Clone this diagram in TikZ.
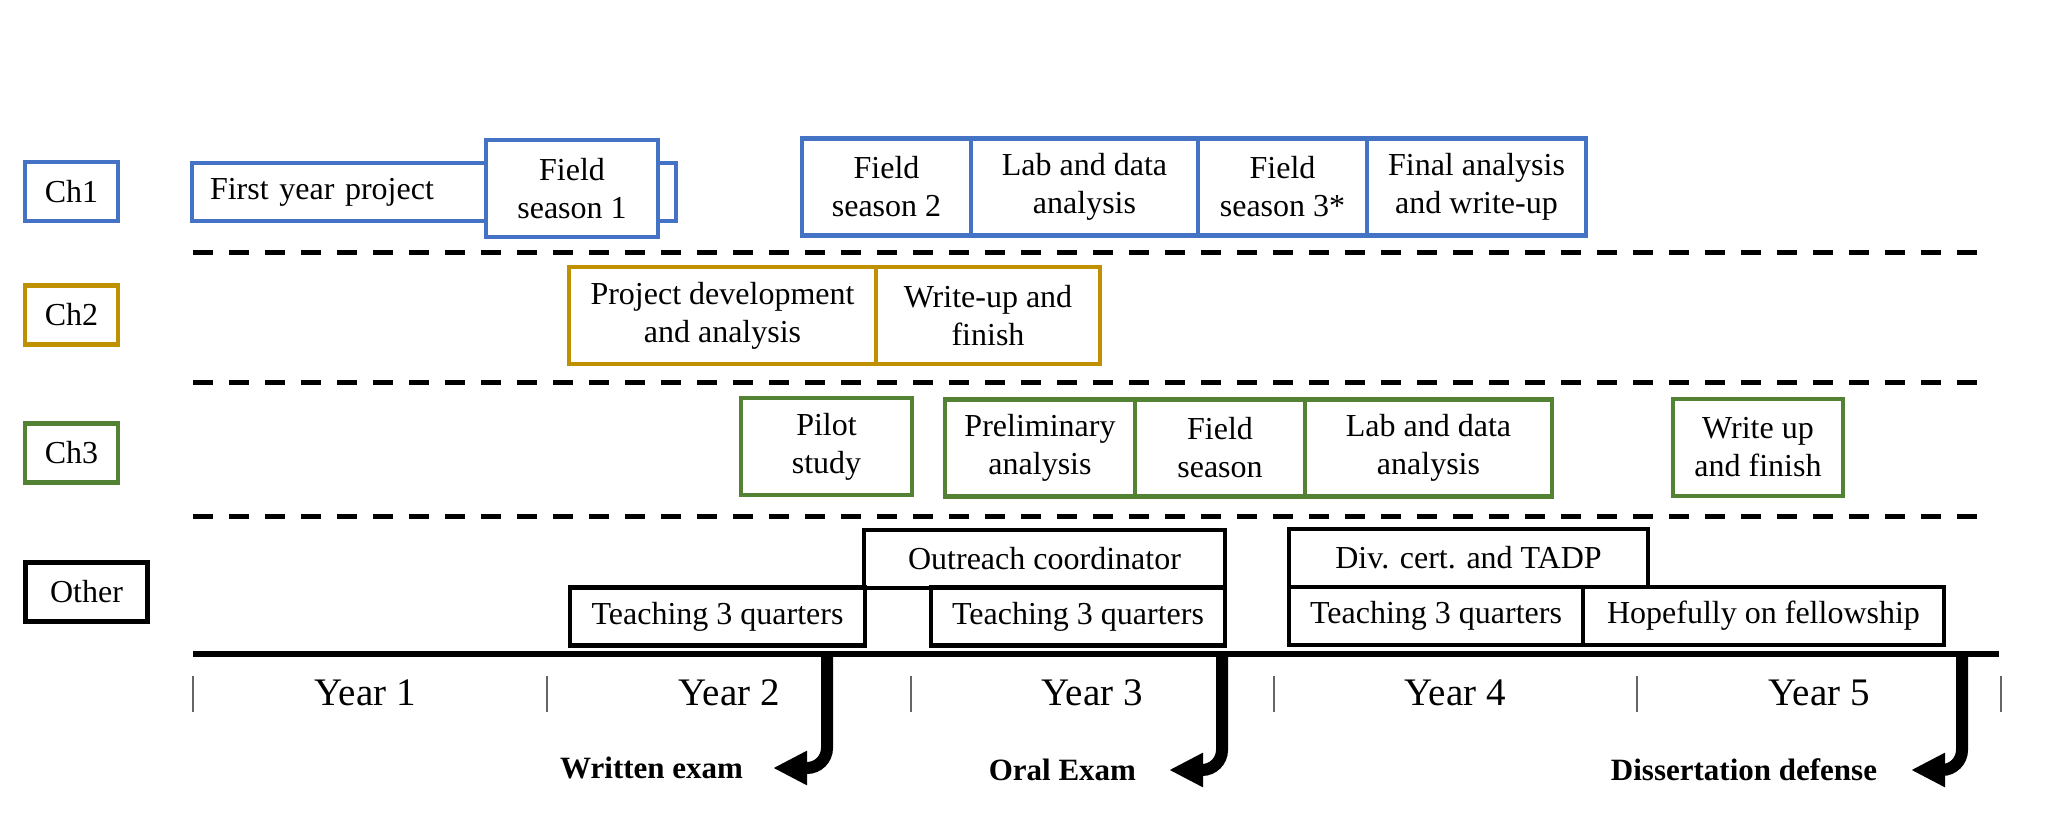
\documentclass[tikz,border=0pt]{standalone}
\usepackage{fontspec}
\setmainfont{Liberation Serif}
\usetikzlibrary{positioning,arrows.meta}
\definecolor{chblue}{RGB}{68,114,196}
\definecolor{chgold}{RGB}{191,144,0}
\definecolor{chgreen}{RGB}{84,130,53}

\begin{document}
\begin{tikzpicture}[
    x=1pt, y=-1pt,
    every node/.style={font=\fontsize{32}{38}\selectfont, align=center, inner sep=0pt, outer sep=0pt},
    task/.style={draw=#1, line width=4.5pt, fill=white, minimum height=97pt},
    chlabel/.style={draw=#1, line width=4.5pt, fill=white, minimum width=93pt, minimum height=59pt},
    other/.style={draw=black, line width=4.5pt, fill=white, minimum height=58pt},
    divider/.style={line width=5pt, dash pattern=on 20pt off 16pt},
    yearlbl/.style={font=\fontsize{39}{44}\selectfont},
    examlbl/.style={font=\fontsize{31}{36}\selectfont\bfseries},
    exam/.style={line width=12pt, rounded corners=20pt, -{Triangle[length=34pt, width=32pt]}}
]
    \useasboundingbox (0,0) rectangle (2054,837);

    % Row labels
    \node[chlabel=chblue] (ch1) at (71.5,191.5) {Ch1};
    \node[chlabel=chgold] (ch2) at (71.5,315) {Ch2};
    \node[chlabel=chgreen] (ch3) at (71.5,453) {Ch3};
    \node[chlabel=black, minimum width=122pt] (oth) at (86.5,592) {Other};

    % Separators
    \foreach \y in {253,382,516}
        \draw[divider] (193,\y) -- (1993,\y);

    % Ch1
    \node[task=chblue, minimum height=58pt, text width=448pt, inner xsep=18pt, align=left, anchor=west] (fyp) at (192,192) {First year project};
    \node[task=chblue, minimum width=172pt] (fs1) at (572,188.5) {Field\\season 1};
    \node[task=chblue, minimum width=169pt] (fs2) at (886.5,187) {Field\\season 2};
    \node[task=chblue, minimum width=227pt, right=0pt of fs2] (lab1) {Lab and data\\analysis};
    \node[task=chblue, minimum width=169pt, right=0pt of lab1] (fs3) {Field\\season 3*};
    \node[task=chblue, minimum width=219pt, right=0pt of fs3] (fin) {Final analysis\\and write-up};

    % Ch2
    \node[task=chgold, minimum width=307pt] (pdev) at (722.5,315.5) {Project development\\and analysis};
    \node[task=chgold, minimum width=224pt, right=0pt of pdev] (wup) {Write-up and\\finish};

    % Ch3
    \node[task=chgreen, minimum width=171pt] (pilot) at (826.5,446.5) {Pilot\\study};
    \node[task=chgreen, minimum width=190pt] (prelim) at (1040,448) {Preliminary\\analysis};
    \node[task=chgreen, minimum width=170pt, right=0pt of prelim] (fseas) {Field\\season};
    \node[task=chgreen, minimum width=247pt, right=0pt of fseas] (lab3) {Lab and data\\analysis};
    \node[task=chgreen, minimum width=170pt] (wuf) at (1758,447.5) {Write up\\and finish};

    % Other
    \node[other, minimum width=361pt] (outr) at (1044.5,559) {Outreach coordinator};
    \node[other, minimum width=295pt] (teach1) at (717.5,616.5) {Teaching 3 quarters};
    \node[other, minimum width=294pt] (teach2) at (1078,616.5) {Teaching 3 quarters};
    \node[other, minimum width=359pt] (divc) at (1468.5,558) {Div. cert. and TADP};
    \node[other, minimum width=294pt] (teach3) at (1436,616) {Teaching 3 quarters};
    \node[other, minimum width=361pt, right=0pt of teach3] (hope) {Hopefully on fellowship};

    % Timeline
    \draw[line width=6pt] (193,654) -- (1999,654);
    \foreach \x in {193,547,911,1274,1637,2001}
        \draw[line width=1.5pt, black!60] (\x,676) -- (\x,712);
    \foreach \x/\n in {365/1,729/2,1092/3,1455/4,1819/5}
        \node[yearlbl] (year\n) at (\x,693) {Year \n};

    % Exams
    \node[examlbl, anchor=east] (wexam) at (743,768) {Written exam};
    \node[examlbl, anchor=east] (oexam) at (1136,770) {Oral Exam};
    \node[examlbl, anchor=east] (ddef) at (1877,770) {Dissertation defense};
    \coordinate (wx) at (827,654);
    \coordinate (ox) at (1222,654);
    \coordinate (dx) at (1962,654);
    \draw[exam] (wx) |- ([xshift=30pt]wexam.east);
    \draw[exam] (ox) |- ([xshift=33pt]oexam.east);
    \draw[exam] (dx) |- ([xshift=34pt]ddef.east);
\end{tikzpicture}
\end{document}
